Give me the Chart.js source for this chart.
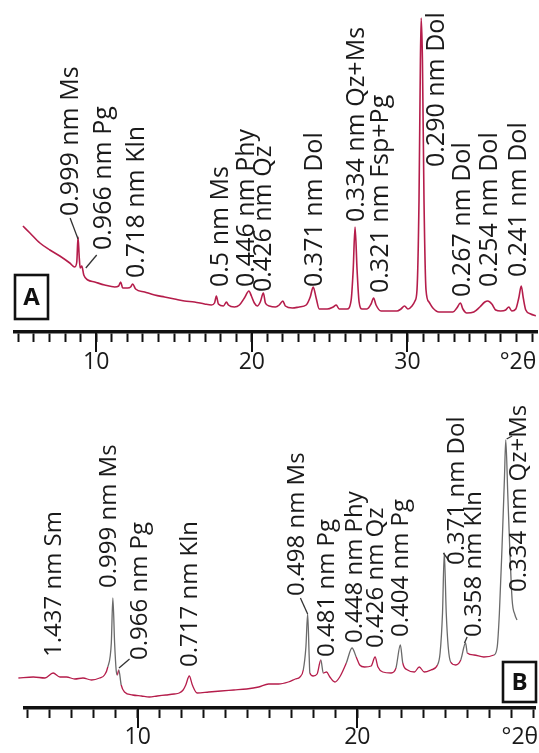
<!DOCTYPE html>
<html>
<head>
<meta charset="utf-8">
<title>XRD patterns A / B</title>
<script src="https://cdn.jsdelivr.net/npm/chart.js@4.4.0/dist/chart.umd.min.js"></script>
<style>
	body { margin: 0; background: #fff; }
	#wrap { position: relative; width: 539px; height: 753px; }
	canvas { position: absolute; left: 0; }
	#chartA { top: 0; }
	#chartB { top: 380px; }
</style>
</head>
<body>
<div id="wrap">
	<canvas id="chartA" width="539" height="380"></canvas>
	<canvas id="chartB" width="539" height="373"></canvas>
</div>
<script>
// ======= Pattern A (°2θ, counts)
const thetaA = [
	5.29, 5.74, 6.38, 7.02, 7.66, 8.30, 8.62, 8.75, 8.83, 8.91,
	8.97, 9.07, 9.20, 9.46, 9.90, 10.54, 11.19, 11.44, 11.57, 11.70,
	12.02, 12.21, 12.34, 12.53, 13.11, 13.75, 14.39, 15.03, 15.67, 16.31,
	16.96, 17.40, 17.60, 17.72, 17.85, 18.17, 18.37, 18.49, 18.88, 19.20,
	19.52, 19.81, 19.97, 20.16, 20.35, 20.54, 20.74, 20.87, 21.12, 21.51,
	21.76, 21.99, 22.15, 22.60, 23.04, 23.49, 23.75, 23.94, 24.13, 24.33,
	24.84, 25.22, 25.42, 25.61, 26.12, 26.38, 26.51, 26.63, 26.76, 26.89,
	27.08, 27.40, 27.66, 27.82, 27.98, 28.30, 28.81, 29.33, 29.58, 29.81,
	30.03, 30.29, 30.48, 30.61, 30.74, 30.83, 30.88, 30.96, 31.06, 31.19,
	31.38, 31.63, 32.02, 32.53, 32.92, 33.17, 33.40, 33.56, 33.81, 34.26,
	34.65, 34.97, 35.16, 35.42, 35.67, 35.99, 36.31, 36.51, 36.70, 36.96,
	37.15, 37.31, 37.44, 37.60, 37.92, 38.24
];
const countsA = [
	1060, 990, 890, 820, 760, 690, 650, 700, 950, 740,
	640, 660, 570, 520, 500, 470, 450, 460, 500, 440,
	440, 450, 480, 430, 400, 370, 350, 330, 310, 300,
	280, 270, 290, 360, 280, 260, 300, 270, 250, 270,
	340, 410, 360, 290, 260, 300, 390, 290, 260, 250,
	270, 310, 260, 240, 250, 270, 350, 450, 340, 230,
	230, 250, 270, 230, 230, 320, 620, 1050, 620, 300,
	230, 230, 280, 340, 270, 210, 210, 210, 230, 260,
	230, 260, 310, 420, 1320, 2720, 3140, 2720, 1320, 420,
	300, 240, 200, 200, 200, 240, 290, 230, 190, 200,
	250, 300, 310, 280, 220, 210, 220, 250, 210, 230,
	340, 460, 340, 220, 180, 160
];
const peakTextA = ['0.999 nm Ms', '0.966 nm Pg', '0.718 nm Kln', '0.5 nm Ms', '0.446 nm Phy', '0.426 nm Qz',
	'0.371 nm Dol', '0.334 nm Qz+Ms', '0.321 nm Fsp+Pg', '0.290 nm Dol', '0.267 nm Dol', '0.254 nm Dol', '0.241 nm Dol'];
const peakThetaA = [8.35, 10.48, 12.6, 17.98, 19.7, 20.8, 24.07, 26.73, 28.3, 31.89, 33.56, 35.29, 37.15];
const peakBaseA = [1160, 820, 540, 450, 450, 400, 450, 1100, 390, 1650, 350, 450, 550];
const leadersA = [[8.83, 930, 8.32, 1140], [9.33, 640, 10.03, 770]];
const ticksA = [5, 6, 7, 8, 9, 10, 11, 12, 13, 14, 15, 16, 17, 18, 19, 20, 21, 22, 23, 24, 25,
	26, 27, 28, 29, 30, 31, 32, 33, 34, 35, 36, 37, 37.1, 38];
const majorsA = [10, 20, 30];

// ======= Pattern B (°2θ, counts)
const thetaB = [
	4.57, 5.25, 5.78, 6.15, 6.46, 6.76, 7.14, 7.51, 7.90, 8.27,
	8.49, 8.64, 8.80, 8.87, 8.95, 9.02, 9.07, 9.14, 9.25, 9.40,
	9.77, 10.17, 10.53, 10.89, 11.29, 11.66, 11.89, 12.07, 12.19, 12.35,
	12.49, 12.71, 13.24, 13.79, 14.38, 14.96, 15.51, 15.96, 16.41, 16.86,
	17.18, 17.39, 17.54, 17.66, 17.74, 17.81, 17.84, 17.99, 18.17, 18.34,
	18.45, 18.60, 18.75, 18.98, 19.20, 19.50, 19.76, 19.95, 20.11, 20.33,
	20.63, 20.81, 20.94, 21.16, 21.54, 21.76, 21.96, 22.07, 22.29, 22.60,
	22.82, 23.05, 23.35, 23.65, 23.77, 23.88, 23.96, 24.05, 24.14, 24.25,
	24.48, 24.71, 24.93, 25.01, 25.31, 25.76, 26.22, 26.37, 26.47, 26.59,
	26.70, 26.76, 26.85, 26.94, 27.05, 27.18, 27.27
];
const countsB = [
	300, 310, 300, 350, 310, 310, 290, 300, 280, 300,
	330, 410, 650, 1100, 650, 380, 330, 380, 230, 160,
	130, 120, 110, 120, 130, 140, 150, 180, 230, 320,
	230, 150, 160, 170, 180, 190, 210, 240, 240, 260,
	290, 310, 380, 610, 940, 510, 350, 320, 340, 480,
	350, 360, 310, 260, 310, 450, 600, 510, 430, 410,
	420, 510, 410, 360, 350, 400, 630, 450, 380, 360,
	410, 360, 380, 430, 550, 950, 1550, 950, 610, 460,
	430, 480, 650, 550, 530, 510, 530, 610, 950, 1610,
	2300, 2680, 2150, 1610, 1080, 930, 880
];
const peakTextB = ['1.437 nm Sm', '0.999 nm Ms', '0.966 nm Pg', '0.717 nm Kln', '0.498 nm Ms', '0.481 nm Pg',
	'0.448 nm Phy', '0.426 nm Qz', '0.404 nm Pg', '0.371 nm Dol', '0.358 nm Kln', '0.334 nm Qz+Ms'];
const peakThetaB = [6.19, 8.72, 10.12, 12.38, 17.27, 18.63, 19.89, 20.87, 22.0, 24.54, 25.33, 27.36];
const peakBaseB = [510, 1200, 480, 410, 1120, 510, 650, 600, 710, 1430, 710, 1160];
const leadersB = [[9.15, 400, 9.63, 490], [17.74, 940, 17.41, 1100], [23.92, 1550, 24.15, 1480],
	[24.88, 650, 25.0, 710], [26.8, 2690, 27.05, 2720]];
const ticksB = [5, 6, 7, 8, 9, 10, 11, 12, 13, 14, 15, 16, 17, 18, 19, 20, 21, 22, 23, 24, 25, 26, 27, 27.4, 28];
const majorsB = [10, 20];

const FONT = "'Open Sans', 'DejaVu Sans', sans-serif";
const RED = '#b51d4b';
const GREY = '#6a6a6a';

// rotated peak names, leader lines and the panel letter
const peakLabels = {
	id: 'peakLabels',
	afterDatasetsDraw(chart, args, opts) {
		const x = chart.scales.x, y = chart.scales.y, ctx = chart.ctx;
		ctx.save();
		ctx.strokeStyle = '#333';
		ctx.lineWidth = 1.3;
		opts.leaders.forEach(l => {
			ctx.beginPath();
			ctx.moveTo(x.getPixelForValue(l[0]), y.getPixelForValue(l[1]));
			ctx.lineTo(x.getPixelForValue(l[2]), y.getPixelForValue(l[3]));
			ctx.stroke();
		});
		ctx.fillStyle = '#1a1a1a';
		ctx.font = opts.size + 'px ' + FONT;
		ctx.textAlign = 'left';
		ctx.textBaseline = 'middle';
		opts.texts.forEach((t, i) => {
			ctx.save();
			ctx.translate(x.getPixelForValue(opts.theta[i]), y.getPixelForValue(opts.base[i]));
			ctx.rotate(-Math.PI / 2);
			ctx.fillText(t, 0, 0);
			ctx.restore();
		});
		// letter box
		const b = opts.box;
		ctx.fillStyle = '#fff';
		ctx.fillRect(b.x, b.y, b.w, b.h);
		ctx.lineWidth = 2.6;
		ctx.strokeStyle = '#111';
		ctx.strokeRect(b.x, b.y, b.w, b.h);
		ctx.fillStyle = '#111';
		ctx.font = 'bold 24px ' + FONT;
		ctx.textAlign = 'center';
		ctx.fillText(b.text, b.x + b.w / 2, b.y + b.h / 2 + 1);
		ctx.restore();
	}
};

// longer marks at every 10°
const majorTicks = {
	id: 'majorTicks',
	afterDraw(chart, args, opts) {
		const s = chart.scales.x, ctx = chart.ctx;
		ctx.save();
		ctx.strokeStyle = '#111';
		ctx.lineWidth = 2;
		opts.values.forEach(v => {
			const px = Math.round(s.getPixelForValue(v));
			ctx.beginPath();
			ctx.moveTo(px, s.top);
			ctx.lineTo(px, s.top + 20);
			ctx.stroke();
		});
		ctx.restore();
	}
};

function makeChart(id, p) {
	const ctx = document.getElementById(id).getContext("2d");
	return new Chart(ctx, {
		type: 'line',
		data: {
			datasets: [{
				data: p.theta.map((t, i) => ({ x: t, y: p.counts[i] })),
				borderColor: RED,
				borderWidth: p.lineWidth,
				pointRadius: 0,
				cubicInterpolationMode: 'monotone',
				clip: false,
				segment: p.segment
			}]
		},
		options: {
			responsive: false,
			animation: false,
			layout: { padding: { left: p.left, right: 0, top: 0, bottom: 0 } },
			plugins: {
				legend: { display: false },
				tooltip: { enabled: false },
				peakLabels: { texts: p.texts, theta: p.labelTheta, base: p.labelBase, leaders: p.leaders, size: p.fontSize, box: p.box },
				majorTicks: { values: p.majors }
			},
			scales: {
				x: {
					type: 'linear',
					min: p.min,
					max: p.max,
					afterBuildTicks: s => { s.ticks = p.ticks.map(v => ({ value: v })); },
					afterFit: s => { s.height = p.axisHeight; },
					ticks: {
						autoSkip: false,
						maxRotation: 0,
						padding: p.tickPad,
						color: '#1a1a1a',
						font: { family: FONT, size: 23 },
						callback: v => v === p.unitAt ? '°2θ' : (p.majors.includes(v) ? String(v) : '')
					},
					grid: {
						drawOnChartArea: false,
						tickLength: 10,
						tickWidth: 2,
						tickColor: c => (c.tick && c.tick.value === p.unitAt) ? 'rgba(0,0,0,0)' : '#111'
					},
					border: { display: true, width: 3.5, color: '#111' }
				},
				y: { display: false, min: 0, max: p.yMax }
			}
		},
		plugins: [peakLabels, majorTicks]
	});
}

makeChart("chartA", {
	theta: thetaA, counts: countsA, lineWidth: 1.6,
	texts: peakTextA, labelTheta: peakThetaA, labelBase: peakBaseA, leaders: leadersA, fontSize: 25,
	ticks: ticksA, majors: majorsA, unitAt: 37.1,
	min: 4.78, max: 38.37, left: 15, axisHeight: 48, tickPad: 7, yMax: 3320,
	box: { x: 15, y: 275, w: 33, h: 44, text: 'A' }
});

makeChart("chartB", {
	theta: thetaB, counts: countsB, lineWidth: 1.3,
	segment: {
		// peak flanks show as the grey trace, background as red
		borderColor: c => {
			const dy = Math.abs(c.p1.parsed.y - c.p0.parsed.y) / (c.p1.parsed.x - c.p0.parsed.x);
			return (Math.max(c.p0.parsed.y, c.p1.parsed.y) > 560 || dy > 900) ? GREY : RED;
		}
	},
	texts: peakTextB, labelTheta: peakThetaB, labelBase: peakBaseB, leaders: leadersB, fontSize: 24,
	ticks: ticksB, majors: majorsB, unitAt: 27.4,
	min: 4.87, max: 28.13, left: 25, axisHeight: 45, tickPad: 6, yMax: 3280,
	box: { x: 503, y: 282, w: 33, h: 40, text: 'B' }
});
</script>
</body>
</html>
